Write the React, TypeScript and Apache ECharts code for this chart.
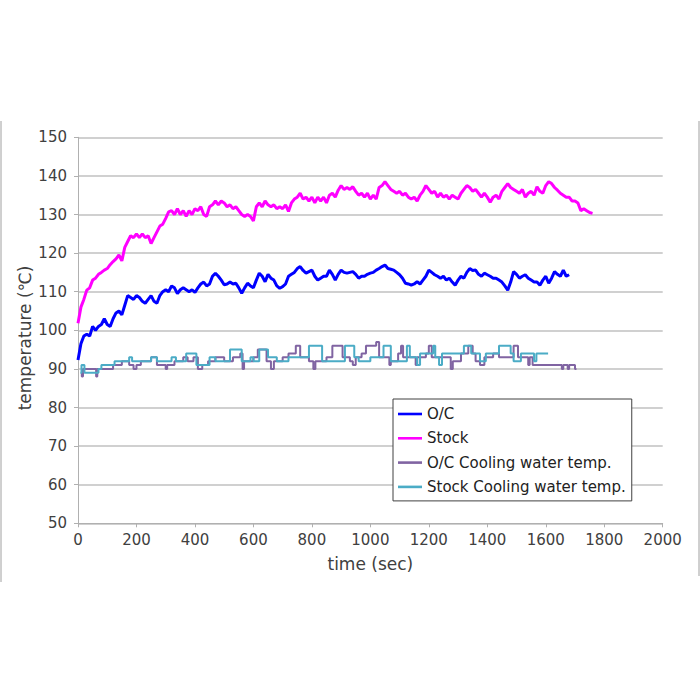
import React, { useEffect, useRef } from "react";
import * as echarts from "echarts";

// Sample interval (sec) of the two temperature traces
const SAMPLE_STEP = 10;

const ocTemp = [
  92.3, 96.5, 98.5, 99, 98.5, 101, 100, 101, 101.5, 103, 101.5, 101, 103, 104.5, 105, 104, 106.5, 109, 108.5, 108,
  109, 108.5, 107.5, 107, 108, 109, 107.5, 107, 109, 110, 110.5, 110, 111.5, 111, 109.5, 110.5, 111, 110.5, 110, 110.5,
  109.8, 111, 112, 112.5, 111.5, 112, 114, 114.8, 114, 113, 111.8, 112, 112.5, 112, 112.2, 111, 109.6, 111, 112.2, 111.5,
  111, 113, 114.8, 114, 112.6, 114.5, 113.5, 113, 111.5, 110.9, 111.3, 112, 114, 114.5, 115, 116, 116.5, 115.5, 114.8, 115.2,
  115.6, 114, 113, 113.5, 114, 114, 115.6, 114.5, 113, 114.5, 115.6, 115, 114.8, 115, 115.2, 114.5, 113.5, 114, 114, 114.5,
  114.8, 115, 115.6, 116, 116.5, 116.9, 116, 115.8, 115.6, 115, 114.4, 113.5, 112.2, 112, 111.7, 112, 112.6, 112, 113, 114,
  115.6, 115, 114.4, 114, 113.5, 114, 113, 113.5, 112.5, 111.7, 113, 114, 113.5, 115, 116, 115.5, 115.6, 114.5, 114, 114.8,
  114.4, 114, 113.5, 113.5, 113, 112.5, 111.5, 110.4, 112.5, 115.2, 114.5, 113.5, 114, 114.4, 113.5, 113, 112.5, 112.5, 111.7, 113,
  114, 112.2, 113.5, 115.2, 114.5, 114, 115.6, 114, 114.4,
];

const stockTemp = [
  101.8, 106, 108, 110.4, 111, 113, 113.5, 114.5, 115, 115.6, 116, 117, 117.8, 118.5, 119.5, 118, 121.5, 123, 124.5, 124,
  125, 124, 125, 124, 124.5, 122.5, 124, 125.5, 127, 127.5, 129, 130.7, 131, 130, 131.5, 130, 131, 129.5, 131, 130,
  131.5, 131, 132, 130, 129.5, 132, 132.5, 133.5, 132.5, 133.5, 133, 132, 132.5, 131.5, 132, 131, 130, 129.5, 130, 129.5,
  128.3, 132, 133, 132, 133.5, 132.5, 132, 132.5, 131.5, 132, 131.5, 132.5, 130.8, 133, 134, 134.5, 135.5, 134, 134.5, 133.5,
  134.5, 133, 134.5, 133.5, 134.5, 133, 135, 135.5, 134.5, 136.3, 137.5, 136.5, 137, 136.5, 137.2, 136, 135, 135.5, 134.5, 135.5,
  134, 135, 134, 137, 137.5, 138.5, 137.5, 136.5, 136, 135.5, 136, 135, 135.5, 134.5, 134, 134.5, 133.5, 135, 136, 137.5,
  136.5, 135.5, 136, 134.5, 135.5, 134.5, 135, 134, 135, 134.5, 134, 135.5, 136.5, 137.5, 137, 136, 136.5, 135.5, 134.5, 135.5,
  134.5, 133.2, 134.5, 135, 134, 136, 137, 138, 137, 136.5, 136, 135.5, 136.5, 134.5, 135.5, 136, 135, 137.2, 136, 135.5,
  137.5, 138.5, 138, 137, 136.3, 135.5, 135, 134.5, 134.5, 133.5, 133.5, 133, 131, 131.5, 131, 130.5, 130.3,
];

// Cooling water temperatures: [time (sec), temp] at each change of reading
const ocCoolingTemp: [number, number][] = [
  [10, 89], [13, 88], [17, 90], [62, 88], [66, 90], [120, 91], [150, 92], [175, 91], [190, 90], [200, 91],
  [215, 92], [250, 93], [270, 91], [300, 90], [305, 91], [330, 92], [360, 93], [375, 92], [395, 93], [410, 90],
  [425, 91], [445, 92], [470, 93], [500, 92], [530, 93], [555, 94], [563, 90], [568, 92], [600, 93], [615, 95],
  [645, 92], [660, 90], [670, 92], [700, 93], [720, 94], [745, 96], [760, 93], [790, 92], [805, 90], [812, 92],
  [850, 93], [870, 96], [905, 93], [930, 92], [940, 91], [950, 93], [970, 94], [985, 96], [1020, 97], [1030, 93],
  [1065, 91], [1070, 92], [1095, 94], [1105, 96], [1112, 93], [1155, 91], [1160, 93], [1190, 94], [1200, 96], [1210, 93],
  [1275, 90], [1282, 92], [1310, 94], [1335, 96], [1350, 94], [1360, 92], [1375, 91], [1390, 93], [1420, 94], [1440, 93],
  [1490, 96], [1505, 93], [1540, 91], [1545, 93], [1555, 91], [1655, 90], [1660, 91], [1675, 90], [1680, 91], [1700, 90],
  [1705, 90],
];

const stockCoolingTemp: [number, number][] = [
  [8, 89], [12, 91], [22, 89], [70, 90], [80, 91], [125, 92], [175, 93], [185, 92], [250, 93], [270, 92],
  [320, 93], [335, 92], [370, 94], [405, 91], [450, 93], [470, 92], [520, 95], [560, 92], [590, 93], [600, 92],
  [620, 95], [650, 93], [680, 92], [720, 93], [790, 96], [835, 92], [913, 96], [945, 93], [960, 92], [1000, 93],
  [1045, 96], [1070, 92], [1125, 96], [1135, 93], [1160, 91], [1170, 94], [1215, 96], [1222, 93], [1235, 91], [1245, 94],
  [1320, 96], [1345, 94], [1375, 92], [1395, 94], [1440, 96], [1460, 96], [1480, 94], [1490, 92], [1515, 94], [1560, 92],
  [1568, 94], [1608, 94],
];

const seriesNames = ["O/C", "Stock", "O/C Cooling water temp.", "Stock Cooling water temp."];
const seriesColors = ["#0000FF", "#FF00FF", "#8064A2", "#4BACC6"];
const yTitle = "temperature (℃)";
const xTitle = "time (sec)";

const FONT = "'DejaVu Sans', Verdana, sans-serif";
const TEXT = "#404040";

export default function App() {
  const ref = useRef<HTMLDivElement>(null);

  useEffect(() => {
    if (!ref.current) return;
    const chart = echarts.init(ref.current, null, { renderer: "svg" });
    const toPairs = (arr: number[]) => arr.map((v, i) => [i * SAMPLE_STEP, v]);

    chart.setOption({
      animation: false,
      backgroundColor: "#ffffff",
      textStyle: { fontFamily: FONT },
      grid: { left: 78, right: 37.3, top: 137.3, bottom: 176.7, containLabel: false },
      xAxis: {
        type: "value",
        min: 0,
        max: 2000,
        interval: 200,
        name: xTitle,
        nameLocation: "middle",
        nameGap: 32,
        nameTextStyle: { fontSize: 17, color: TEXT, fontFamily: FONT },
        axisLine: { show: true, onZero: false, lineStyle: { color: "#b0b0b0", width: 1 } },
        axisTick: { show: true, length: 4, lineStyle: { color: "#b0b0b0" } },
        axisLabel: { fontSize: 15, color: TEXT, margin: 9, fontFamily: FONT, formatter: (v: number) => String(v) },
        splitLine: { show: false },
      },
      yAxis: {
        type: "value",
        min: 50,
        max: 150,
        interval: 10,
        axisLine: { show: true, lineStyle: { color: "#b0b0b0", width: 1 } },
        axisTick: { show: true, length: 4, lineStyle: { color: "#b0b0b0" } },
        axisLabel: { fontSize: 15, color: TEXT, margin: 11, fontFamily: FONT },
        splitLine: { show: true, lineStyle: { color: "#c0c0c0", width: 1.5 } },
      },
      legend: {
        orient: "vertical",
        left: 393,
        top: 399,
        data: seriesNames.map((n) => ({ name: n, icon: "rect" })),
        backgroundColor: "#ffffff",
        borderColor: "#404040",
        borderWidth: 1,
        borderRadius: 0,
        padding: [5, 6, 4, 5],
        itemWidth: 24,
        itemHeight: 2.6,
        itemGap: 4.3,
        textStyle: { fontSize: 15, color: "#222", lineHeight: 20, fontFamily: FONT },
      },
      series: [
        {
          name: seriesNames[0],
          type: "line",
          data: toPairs(ocTemp),
          symbol: "none",
          color: seriesColors[0],
          lineStyle: { width: 3, color: seriesColors[0] },
          z: 4,
        },
        {
          name: seriesNames[1],
          type: "line",
          data: toPairs(stockTemp),
          symbol: "none",
          color: seriesColors[1],
          lineStyle: { width: 3, color: seriesColors[1] },
          z: 4,
        },
        {
          name: seriesNames[2],
          type: "line",
          data: ocCoolingTemp,
          step: "end",
          symbol: "none",
          color: seriesColors[2],
          lineStyle: { width: 2, color: seriesColors[2] },
          z: 3,
        },
        {
          name: seriesNames[3],
          type: "line",
          data: stockCoolingTemp,
          step: "end",
          symbol: "none",
          color: seriesColors[3],
          lineStyle: { width: 2, color: seriesColors[3] },
          z: 3,
        },
      ],
      graphic: [
        {
          type: "text",
          x: 24.5,
          y: 338,
          rotation: Math.PI / 2,
          style: { text: yTitle, fontSize: 17, fontFamily: FONT, fill: TEXT, align: "center", verticalAlign: "middle" },
        },
        { type: "line", shape: { x1: 1, y1: 121, x2: 1, y2: 582 }, style: { stroke: "#a0a0a0", lineWidth: 1 } },
        { type: "line", shape: { x1: 699, y1: 121, x2: 699, y2: 576 }, style: { stroke: "#a0a0a0", lineWidth: 1 } },
      ],
    });

    return () => chart.dispose();
  }, []);

  return <div ref={ref} style={{ width: 700, height: 700, position: "absolute", left: 0, top: 0 }} />;
}
